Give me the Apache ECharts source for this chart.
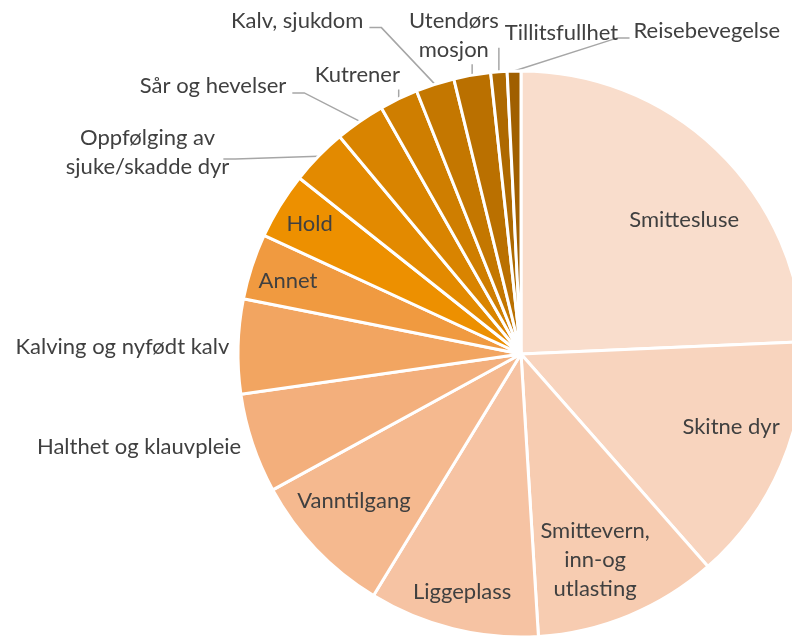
<!DOCTYPE html>
<html>
<head>
<meta charset="utf-8">
<script src="https://cdn.jsdelivr.net/npm/echarts@6/dist/echarts.min.js"></script>
<style>
  html, body { margin: 0; padding: 0; background: #fff; }
  #chart { width: 792px; height: 638px; }
</style>
</head>
<body>
<div id="chart"></div>
<script>
const categories = [
  'Smittesluse', 'Skitne dyr', 'Smittevern, inn-og utlasting', 'Liggeplass',
  'Vanntilgang', 'Halthet og klauvpleie', 'Kalving og nyfødt kalv', 'Annet',
  'Hold', 'Oppfølging av sjuke/skadde dyr', 'Sår og hevelser', 'Kutrener',
  'Kalv, sjukdom', 'Utendørs mosjon', 'Tillitsfullhet', 'Reisebevegelse'
];
const values = [24.3, 14.2, 10.5, 9.7, 8.3, 5.7, 5.4, 3.75, 3.8, 3.25, 2.85, 2.2, 2.2, 2.1, 0.93, 0.78];

const colors = [
  '#F9DDCC', '#F8D4BE', '#F7CCB1', '#F6C3A3', '#F5B98F', '#F3AF7C', '#F2A561', '#F09A40',
  '#ED9000', '#E38A00', '#D98400', '#CF7E00', '#C47700', '#BA7000', '#AE6900', '#A05F00'
];

// where each label sits: angle (deg, clockwise from top) and distance as share of the radius
const labelAngle = [50.6, 109.2, 160.2, 193.9, 228.7, 251.6, 271.4, 287.4, 301.6, 298.4, 318.8, 329.6, 334.7, 348.1, 7.2, 19.2];
const labelDist = [0.746, 0.786, 0.773, 0.866, 0.786, 1.042, 1.031, 0.863, 0.877, 1.5, 1.259, 1.143, 1.303, 1.151, 1.142, 1.209];
const labelAlign = ['center', 'center', 'center', 'center', 'center', 'right', 'right', 'center',
  'center', 'center', 'right', 'center', 'right', 'center', 'center', 'left'];
// leader line kind: none, side (elbow into the label's side) or below (up to the label's bottom)
const leader = ['none', 'none', 'none', 'none', 'none', 'none', 'none', 'none',
  'none', 'side', 'side', 'below', 'side', 'below', 'below', 'side'];

const wrapped = {
  'Smittevern, inn-og utlasting': 'Smittevern,\ninn-og\nutlasting',
  'Oppfølging av sjuke/skadde dyr': 'Oppfølging av\nsjuke/skadde dyr',
  'Utendørs mosjon': 'Utendørs\nmosjon'
};

const CX = 521, CY = 354, R = 283;

const total = values.reduce((a, b) => a + b, 0);
const midAngle = [];
let acc = 0;
values.forEach(v => {
  midAngle.push((acc + v / 2) / total * Math.PI * 2);
  acc += v;
});

const chart = echarts.init(document.getElementById('chart'));

chart.setOption({
  animation: false,
  series: [{
    type: 'pie',
    center: [CX, CY],
    radius: R,
    startAngle: 90,
    clockwise: true,
    avoidLabelOverlap: false,
    silent: true,
    itemStyle: {
      borderColor: '#fff',
      borderWidth: 3
    },
    label: {
      show: true,
      position: 'outside',
      fontFamily: 'Lato',
      fontSize: 22,
      lineHeight: 29,
      color: '#404040',
      formatter: p => wrapped[p.name] || p.name
    },
    labelLine: {
      show: false,
      lineStyle: { color: '#A6A6A6', width: 1.5 }
    },
    labelLayout: function (p) {
      const i = p.dataIndex;
      const a = labelAngle[i] * Math.PI / 180;
      const x = CX + labelDist[i] * R * Math.sin(a);
      const y = CY - labelDist[i] * R * Math.cos(a);
      const out = { x: x, y: y, align: labelAlign[i], verticalAlign: 'middle' };
      const w = p.labelRect.width, h = p.labelRect.height;
      const ex = CX + R * Math.sin(midAngle[i]);
      const ey = CY - R * Math.cos(midAngle[i]);
      if (leader[i] === 'side') {
        const ly = y + 7;
        let endX;
        if (labelAlign[i] === 'left') {
          endX = x - 4;
          out.labelLinePoints = [[ex, ey], [endX - 12, ly], [endX, ly]];
        } else {
          endX = labelAlign[i] === 'right' ? x + 6 : x + w / 2 - 6;
          out.labelLinePoints = [[ex, ey], [endX + 12, ly], [endX, ly]];
        }
      } else if (leader[i] === 'below') {
        out.labelLinePoints = [[ex, ey], [ex, y + h / 2]];
      }
      return out;
    },
    emphasis: { disabled: true },
    data: categories.map((name, i) => ({
      name: name,
      value: values[i],
      itemStyle: { color: colors[i] },
      labelLine: { show: leader[i] !== 'none' }
    }))
  }]
});
</script>
</body>
</html>
